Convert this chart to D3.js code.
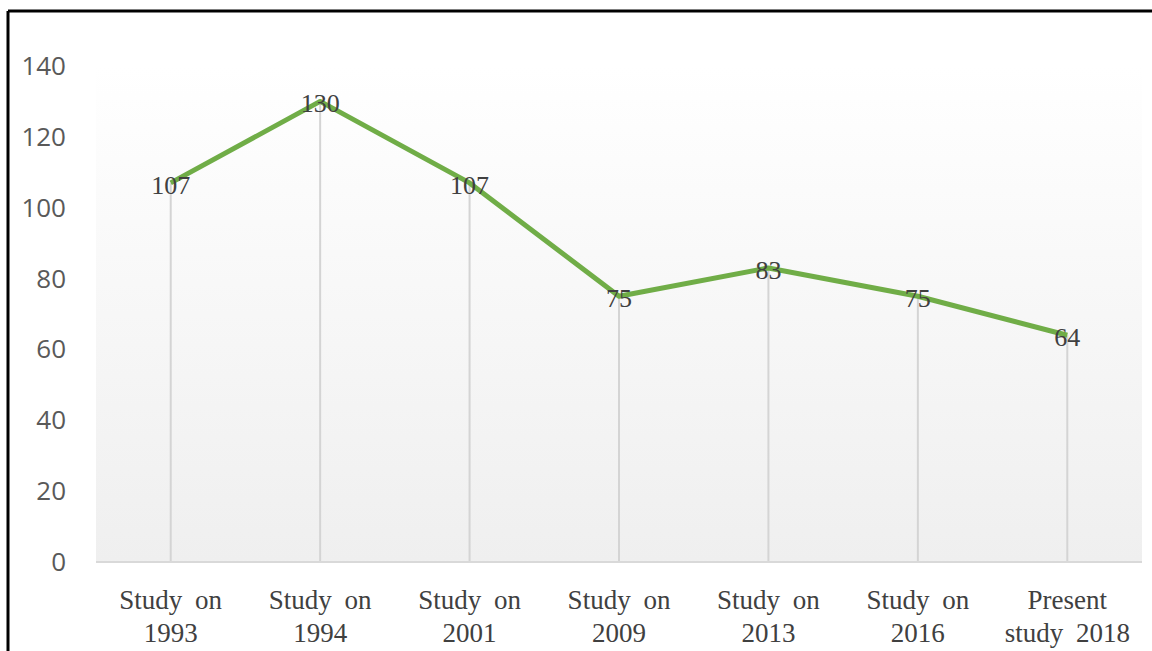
<!DOCTYPE html>
<html>
<head>
<meta charset="utf-8">
<script src="https://cdn.jsdelivr.net/npm/d3@7"></script>
<style>
  body { margin: 0; background: #fff; }
  svg { display: block; }
</style>
</head>
<body>
<svg width="1152" height="651"></svg>
<script>
var categories = ["Study on 1993", "Study on 1994", "Study on 2001", "Study on 2009", "Study on 2013", "Study on 2016", "Present study 2018"];
var catLines = [["Study on", "1993"], ["Study on", "1994"], ["Study on", "2001"], ["Study on", "2009"], ["Study on", "2013"], ["Study on", "2016"], ["Present", "study 2018"]];
var values = [107, 130, 107, 75, 83, 75, 64];
var yTicks = [0, 20, 40, 60, 80, 100, 120, 140];

var svg = d3.select("svg");
var plotL = 96, plotR = 1142, plotT = 66, plotB = 562;

// outer frame (only top and left visible in the crop)
svg.append("line").attr("x1", 8).attr("y1", 11).attr("x2", 1152).attr("y2", 11)
   .attr("stroke", "#000").attr("stroke-width", 3);
svg.append("line").attr("x1", 8).attr("y1", 11).attr("x2", 8).attr("y2", 651)
   .attr("stroke", "#000").attr("stroke-width", 3);

var defs = svg.append("defs");
var grad = defs.append("linearGradient").attr("id", "bg")
   .attr("x1", 0).attr("y1", 0).attr("x2", 0).attr("y2", 1);
grad.append("stop").attr("offset", "0%").attr("stop-color", "#ffffff");
grad.append("stop").attr("offset", "100%").attr("stop-color", "#efefef");

var x = d3.scaleBand().domain(categories).range([plotL, plotR]);
var y = d3.scaleLinear().domain([0, 140]).range([plotB, plotT]);
var cx = function(i){ return x(categories[i]) + x.bandwidth() / 2; };

svg.append("rect").attr("x", plotL).attr("y", plotT)
   .attr("width", plotR - plotL).attr("height", plotB - plotT)
   .attr("fill", "url(#bg)");

// y tick labels
svg.selectAll(".ytick").data(yTicks).enter().append("text")
   .attr("x", 66).attr("y", function(d){ return y(d) + 9; })
   .attr("text-anchor", "end")
   .attr("font-family", "Open Sans, Noto Sans, sans-serif")
   .attr("font-size", 26)
   .attr("fill", "#595959")
   .text(function(d){ return d; });

// drop lines
svg.selectAll(".drop").data(values).enter().append("line")
   .attr("x1", function(d, i){ return cx(i); })
   .attr("x2", function(d, i){ return cx(i); })
   .attr("y1", function(d){ return y(d); })
   .attr("y2", plotB)
   .attr("stroke", "#d4d4d4").attr("stroke-width", 2);

// category axis line
svg.append("line").attr("x1", plotL).attr("x2", plotR).attr("y1", plotB).attr("y2", plotB)
   .attr("stroke", "#d9d9d9").attr("stroke-width", 2);

// series line
var line = d3.line()
   .x(function(d, i){ return cx(i); })
   .y(function(d){ return y(d); });
svg.append("path").datum(values).attr("d", line)
   .attr("fill", "none").attr("stroke", "#70ad47").attr("stroke-width", 5)
   .attr("stroke-linejoin", "round");

// data labels
svg.selectAll(".lbl").data(values).enter().append("text")
   .attr("x", function(d, i){ return cx(i); })
   .attr("y", function(d){ return y(d) + 11; })
   .attr("text-anchor", "middle")
   .attr("font-family", "Liberation Serif, Times New Roman, serif")
   .attr("font-size", 26)
   .attr("fill", "#404040")
   .text(function(d){ return d; });

// category labels
var cat = svg.selectAll(".cat").data(catLines).enter().append("text")
   .attr("text-anchor", "middle")
   .attr("font-family", "Liberation Serif, Times New Roman, serif")
   .attr("font-size", 27)
   .attr("word-spacing", 6)
   .attr("fill", "#404040");
cat.each(function(d, i){
   d3.select(this).selectAll("tspan").data(d).enter().append("tspan")
      .attr("x", cx(i))
      .attr("y", function(t, j){ return 609 + j * 33; })
      .text(function(t){ return t; });
});
</script>
</body>
</html>
